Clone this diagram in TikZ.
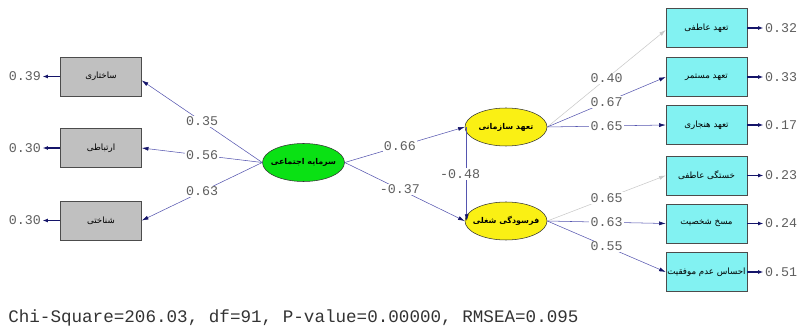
\documentclass[tikz,border=0pt]{standalone}
\usepackage{fontspec}
\usetikzlibrary{arrows.meta,shapes.geometric}
\setmonofont{Liberation Mono}
\newfontfamily\persfont[Script=Arabic]{DejaVu Sans}
\TeXXeTstate=1
\newcommand{\pers}[1]{{\persfont\beginR #1\endR}}
\newcommand{\latname}[1]{\makebox[0pt]{\pers{#1}}}
\definecolor{pathblue}{RGB}{85,85,175}
\definecolor{headblue}{RGB}{20,20,105}
\definecolor{fixgray}{RGB}{200,200,200}
\definecolor{labgray}{RGB}{95,95,95}
\definecolor{boxgray}{RGB}{192,192,192}
\definecolor{boxcyan}{RGB}{130,242,242}
\definecolor{latgreen}{RGB}{10,225,20}
\definecolor{latyellow}{RGB}{250,240,20}
\tikzset{
  obsbox/.style={rectangle, draw=black!70, minimum width=60.75pt, minimum height=29pt, inner sep=0pt,
    font=\fontsize{6.5}{8}\selectfont},
  leftbox/.style={obsbox, fill=boxgray},
  rightbox/.style={obsbox, fill=boxcyan},
  latent/.style={ellipse, draw=black!80, minimum width=61.5pt, minimum height=28.5pt, inner sep=0pt,
    font=\fontsize{6}{7}\selectfont\bfseries},
  coef/.style={fill=white, inner sep=1pt, text=labgray, font=\ttfamily\fontsize{10}{12}\selectfont},
  errval/.style={inner sep=1pt, text=labgray, font=\ttfamily\fontsize{10}{12}\selectfont},
  load/.style={draw=pathblue, -{Latex[length=5pt,width=3pt,color=headblue]}},
  fixed/.style={draw=fixgray, -{Latex[length=5pt,width=3pt,color=fixgray]}},
  errarr/.style={draw=headblue, line width=0.9pt, -{Latex[length=4pt,width=3pt]}}
}
\begin{document}
\begin{tikzpicture}[x=0.75pt,y=-0.75pt]
  \useasboundingbox (0,0) rectangle (798,327);

  \node[latent, fill=latgreen] (soc) at (303.5,162.5) {\latname{سرمایه اجتماعی}};
  \node[latent, fill=latyellow] (org) at (506,127) {\latname{تعهد سازمانی}};
  \node[latent, fill=latyellow] (burn) at (506,221) {\latname{فرسودگی شغلی}};

  \node[leftbox] (str) at (101,76.5) {\pers{ساختاری}};
  \node[leftbox] (rel) at (101,148) {\pers{ارتباطی}};
  \node[leftbox] (cog) at (101,220.5) {\pers{شناختی}};

  \node[rightbox] (aff) at (706.5,28) {\pers{تعهد عاطفی}};
  \node[rightbox] (con) at (706.5,77) {\pers{تعهد مستمر}};
  \node[rightbox] (nor) at (706.5,125) {\pers{تعهد هنجاری}};
  \node[rightbox] (exh) at (706.5,175.5) {\pers{خستگی عاطفی}};
  \node[rightbox] (dep) at (706.5,223.5) {\pers{مسخ شخصیت}};
  \node[rightbox] (acc) at (706.5,272) {\pers{احساس عدم موفقیت}};

  \node[errval] (e1) at (25,76.5) {0.39};
  \node[errval] (e2) at (25,148) {0.30};
  \node[errval] (e3) at (25,220.5) {0.30};
  \node[errval] (e4) at (781,28) {0.32};
  \node[errval] (e5) at (781,77) {0.33};
  \node[errval] (e6) at (781,125) {0.17};
  \node[errval] (e7) at (781,175.5) {0.23};
  \node[errval] (e8) at (781,223.5) {0.24};
  \node[errval] (e9) at (781,272) {0.51};

  \draw[errarr] (str.west) -- (e1.east);
  \draw[errarr] (rel.west) -- (e2.east);
  \draw[errarr] (cog.west) -- (e3.east);
  \draw[errarr] (aff.east) -- (e4.west);
  \draw[errarr] (con.east) -- (e5.west);
  \draw[errarr] (nor.east) -- (e6.west);
  \draw[errarr] (exh.east) -- (e7.west);
  \draw[errarr] (dep.east) -- (e8.west);
  \draw[errarr] (acc.east) -- (e9.west);

  \draw[load] (soc.west) -- node[coef] {0.35} ([yshift=-3pt]str.east);
  \draw[load] (soc.west) -- node[coef] {0.56} (rel.east);
  \draw[load] (soc.west) -- node[coef] {0.63} (cog.east);

  \draw[load] (soc.east) -- node[coef, pos=0.46] {0.66} (org.west);
  \draw[load] (soc.east) -- node[coef, pos=0.46] {-0.37} (burn.west);
  \draw[load] ([xshift=1.5pt]org.west) -- node[coef, xshift=-5pt] {-0.48} ([xshift=1.5pt]burn.west);

  \draw[fixed] (org.east) -- node[coef] {0.40} ([yshift=-1.5pt]aff.west);
  \draw[load] (org.east) -- node[coef] {0.67} (con.west);
  \draw[load] (org.east) -- node[coef] {0.65} (nor.west);
  \draw[fixed] (burn.east) -- node[coef] {0.65} (exh.west);
  \draw[load] (burn.east) -- node[coef] {0.63} (dep.west);
  \draw[load] (burn.east) -- node[coef] {0.55} (acc.west);

  \node[anchor=west, inner sep=0pt, text=black!80, font=\ttfamily\fontsize{13.2}{15}\selectfont] (fit) at (8,318)
    {Chi-Square=206.03, df=91, P-value=0.00000, RMSEA=0.095};
\end{tikzpicture}
\end{document}
